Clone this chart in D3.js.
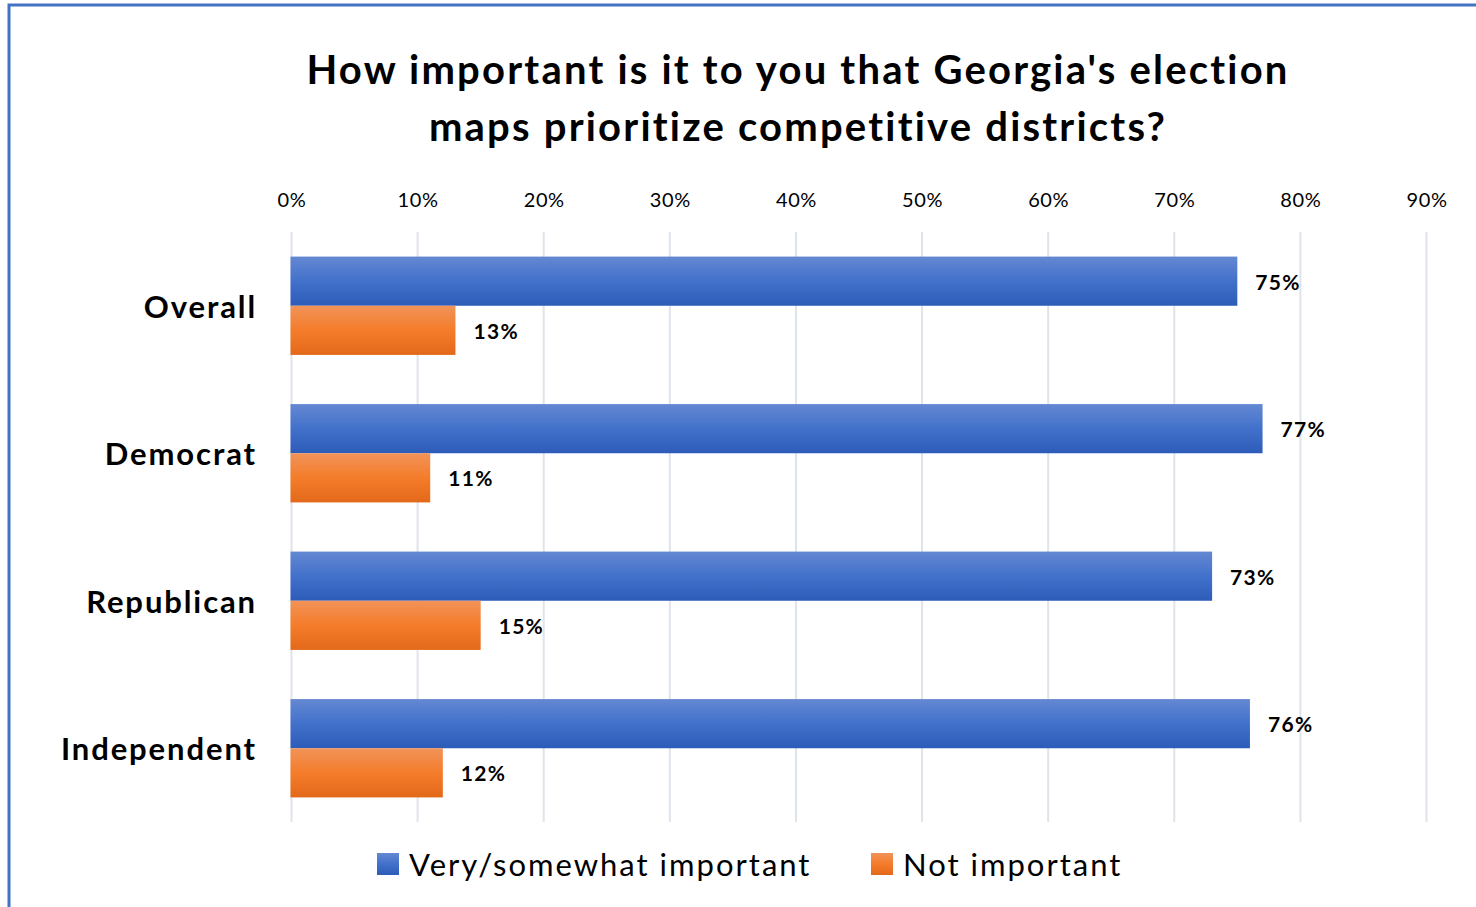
<!DOCTYPE html>
<html><head><meta charset="utf-8">
<script src="https://cdn.jsdelivr.net/npm/d3@7"></script>
<style>
html,body{margin:0;padding:0;background:#fff;}
svg{display:block;}
text{font-family:Lato,"Open Sans",sans-serif;fill:#000;}
</style></head>
<body>
<svg id="chart" width="1476" height="907"></svg>
<script>
const title = ["How important is it to you that Georgia's election", "maps prioritize competitive districts?"];
const categories = ["Overall", "Democrat", "Republican", "Independent"];
const seriesNames = ["Very/somewhat important", "Not important"];
const important = [75, 77, 73, 76];
const notImportant = [13, 11, 15, 12];
const ticks = [0, 10, 20, 30, 40, 50, 60, 70, 80, 90];

const svg = d3.select("#chart");
const W = 1476, H = 907;
svg.append("rect").attr("width", W).attr("height", H).attr("fill", "#fff");

const defs = svg.append("defs");
function grad(id, stops) {
  const g = defs.append("linearGradient").attr("id", id).attr("x1", 0).attr("y1", 0).attr("x2", 0).attr("y2", 1);
  stops.forEach(s => g.append("stop").attr("offset", s[0]).attr("stop-color", s[1]));
}
grad("gBlue", [[0, "#6488d2"], [0.5, "#4271cb"], [1, "#2c5cb8"]]);
grad("gOrange", [[0, "#f19359"], [0.5, "#f47c2a"], [1, "#e3691a"]]);
const fills = ["url(#gBlue)", "url(#gOrange)"];

svg.append("path").attr("d", `M9,${H} L9,5 L${W},5`).attr("fill", "none").attr("stroke", "#4472c4").attr("stroke-width", 3);

title.forEach((t, i) => {
  svg.append("text").attr("x", 798).attr("y", 84 + i * 57).attr("text-anchor", "middle")
    .style("font-size", "40px").style("font-weight", "bold").style("letter-spacing", "2.2px").text(t);
});

const x = d3.scaleLinear().domain([0, 90]).range([291.5, 1426.5]);
const y = d3.scaleBand().domain(categories).range([232, 822]).paddingInner(1/3).paddingOuter(1/6);
const ySub = d3.scaleBand().domain([0, 1]).range([0, y.bandwidth()]);

svg.append("g").selectAll("line").data(ticks).join("line")
  .attr("x1", d => x(d)).attr("x2", d => x(d)).attr("y1", 232).attr("y2", 822)
  .attr("stroke", "#dfe3ea").attr("stroke-width", 2);

const ax = svg.append("g").attr("transform", "translate(0,207)")
  .call(d3.axisTop(x).tickValues(ticks).tickFormat(d => d + "%").tickSize(0).tickPadding(0));
ax.select(".domain").remove();
ax.selectAll("text").style("font-size", "20px").style("font-family", "Lato,sans-serif")
  .style("letter-spacing", "0.6px").attr("fill", "#000");

const data = categories.map((c, i) => ({ c, vals: [important[i], notImportant[i]] }));
const groups = svg.append("g").selectAll("g").data(data).join("g")
  .attr("transform", d => `translate(0,${y(d.c)})`);
groups.selectAll("rect").data(d => d.vals.map((v, k) => ({ v, k }))).join("rect")
  .attr("x", x(0) - 1).attr("y", d => ySub(d.k)).attr("height", ySub.bandwidth())
  .attr("width", d => x(d.v) - x(0) + 1).attr("fill", d => fills[d.k]);
groups.selectAll("text.val").data(d => d.vals.map((v, k) => ({ v, k }))).join("text")
  .attr("class", "val").attr("x", d => x(d.v) + 18).attr("y", d => ySub(d.k) + ySub.bandwidth() / 2 + 1)
  .attr("dy", "0.35em").style("font-size", "21px").style("font-weight", "bold")
  .style("letter-spacing", "1.3px").text(d => d.v + "%");

svg.append("g").selectAll("text").data(categories).join("text")
  .attr("x", 257).attr("y", d => y(d) + y.bandwidth() / 2 + 1).attr("dy", "0.35em")
  .attr("text-anchor", "end").style("font-size", "31px").style("font-weight", "bold")
  .style("letter-spacing", "1.9px").text(d => d);

const leg = [{ x: 377, tx: 409 }, { x: 871, tx: 903 }];
seriesNames.forEach((n, i) => {
  svg.append("rect").attr("x", leg[i].x).attr("y", 853).attr("width", 22).attr("height", 22).attr("fill", fills[i]);
  svg.append("text").attr("x", leg[i].tx).attr("y", 865).attr("dy", "0.35em")
    .style("font-size", "31px").style("letter-spacing", "2px").text(n);
});
</script>
</body></html>
